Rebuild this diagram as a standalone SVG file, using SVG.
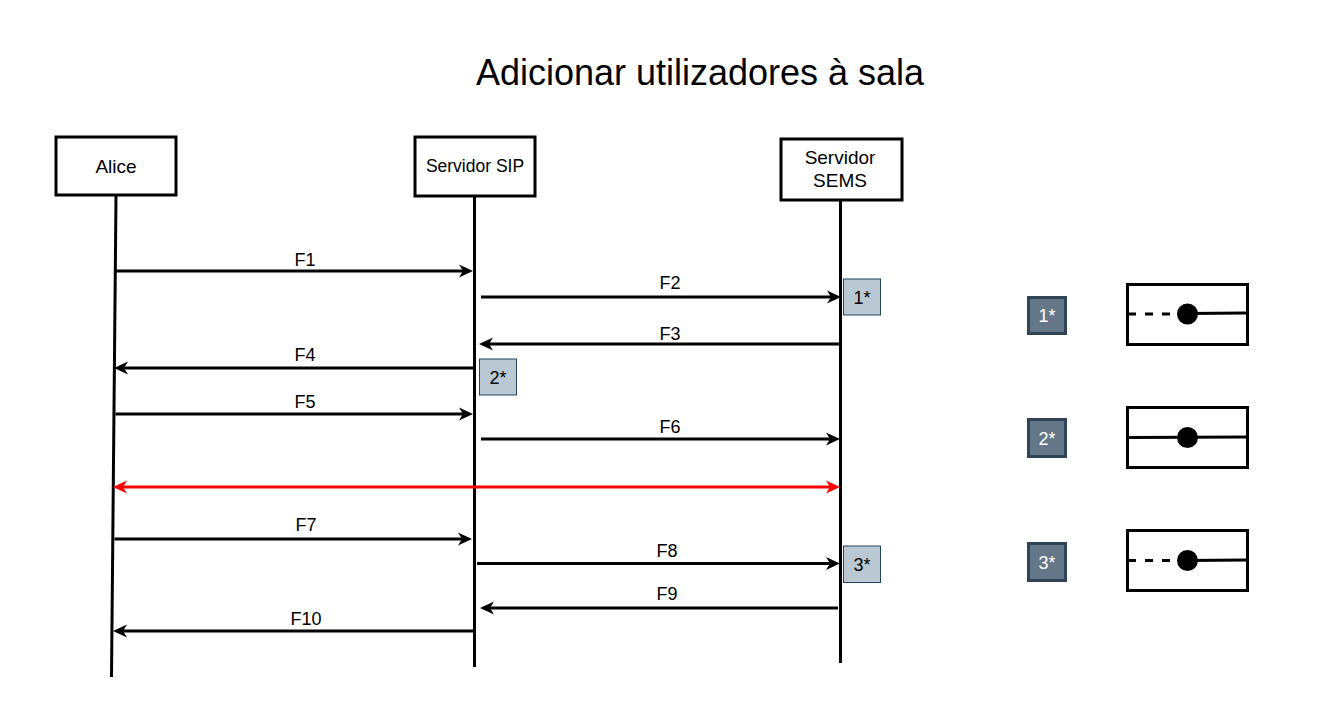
<svg xmlns="http://www.w3.org/2000/svg" width="1317" height="713" viewBox="0 0 1317 713">
<style>
  text { font-family: "Liberation Sans", Arial, sans-serif; fill: #000; }
  .title { font-size: 36px; text-anchor: middle; }
  .actor rect { fill: #fff; stroke: #000; stroke-width: 3; }
  .actor text { text-anchor: middle; }
  .life { stroke: #000; stroke-width: 3; fill: none; }
  .msg { stroke: #000; stroke-width: 3; fill: none; marker-end: url(#arr); }
  .red { stroke: #ff0000; stroke-width: 3; fill: none; marker-start: url(#arrRed); marker-end: url(#arrRed); }
  .lbl { font-size: 18px; text-anchor: middle; }
  .badge rect { fill: #bac8d3; stroke: #23445d; stroke-width: 1; }
  .badge text { font-size: 18px; text-anchor: middle; fill: #000; }
  .lbadge rect { fill: #647687; stroke: #314354; stroke-width: 3; }
  .lbadge text { font-size: 18px; text-anchor: middle; fill: #fff; }
  .lbox rect { fill: #fff; stroke: #000; stroke-width: 3; }
  .lbox line { stroke: #000; stroke-width: 3; }
  .lbox .dash { stroke-dasharray: 8 9; }
  .lbox circle { fill: #000; }
</style>
<defs>
  <marker id="arr" viewBox="0 0 14 14" refX="8" refY="7" markerWidth="14" markerHeight="14" markerUnits="userSpaceOnUse" orient="auto-start-reverse">
    <path d="M0,0.5 L14,7 L0,13.5 L4,7 Z" fill="#000"/>
  </marker>
  <marker id="arrRed" viewBox="0 0 14 14" refX="8" refY="7" markerWidth="14" markerHeight="14" markerUnits="userSpaceOnUse" orient="auto-start-reverse">
    <path d="M0,0.5 L14,7 L0,13.5 L4,7 Z" fill="#ff0000"/>
  </marker>
</defs>
<rect x="0" y="0" width="1317" height="713" fill="#fff"/>

<text class="title" x="700" y="85">Adicionar utilizadores à sala</text>

<g id="lifelines">
  <line class="life" x1="116" y1="196" x2="111.5" y2="677"/>
  <line class="life" x1="474.5" y1="197" x2="474.5" y2="667"/>
  <line class="life" x1="840.5" y1="200" x2="840.5" y2="663"/>
</g>

<g id="alice" class="actor">
  <rect x="56" y="137" width="120" height="58"/>
  <text x="116" y="173" font-size="19">Alice</text>
</g>
<g id="servidor-sip" class="actor">
  <rect x="415" y="137" width="120" height="59"/>
  <text x="475" y="172" font-size="17.5">Servidor SIP</text>
</g>
<g id="servidor-sems" class="actor">
  <rect x="781" y="139" width="121" height="61"/>
  <text x="840" y="164" font-size="19">Servidor</text>
  <text x="840" y="187" font-size="19">SEMS</text>
</g>

<g id="connectors">
  <line class="msg" x1="116" y1="271" x2="467" y2="271"/>
  <line class="msg" x1="481" y1="297" x2="835" y2="297"/>
  <line class="msg" x1="839" y1="344" x2="485" y2="344"/>
  <line class="msg" x1="473" y1="368" x2="120" y2="368"/>
  <line class="msg" x1="115.5" y1="414" x2="467" y2="414"/>
  <line class="msg" x1="481" y1="439" x2="834" y2="439"/>
  <line class="red" x1="119" y1="487" x2="834" y2="487"/>
  <line class="msg" x1="114.5" y1="539" x2="466" y2="539"/>
  <line class="msg" x1="477" y1="563.5" x2="834" y2="563.5"/>
  <line class="msg" x1="838" y1="608" x2="486" y2="608"/>
  <line class="msg" x1="473" y1="631" x2="119" y2="631"/>
</g>

<g id="labels">
  <text class="lbl" x="305" y="266">F1</text>
  <text class="lbl" x="670" y="289">F2</text>
  <text class="lbl" x="670" y="340">F3</text>
  <text class="lbl" x="305" y="361">F4</text>
  <text class="lbl" x="305" y="408">F5</text>
  <text class="lbl" x="670" y="433">F6</text>
  <text class="lbl" x="306" y="531">F7</text>
  <text class="lbl" x="667" y="557">F8</text>
  <text class="lbl" x="667" y="600">F9</text>
  <text class="lbl" x="306" y="625">F10</text>
</g>

<g id="badge-1" class="badge">
  <rect x="843.5" y="279" width="37" height="36"/>
  <text x="862" y="304">1*</text>
</g>
<g id="badge-2" class="badge">
  <rect x="479.5" y="359" width="37" height="36"/>
  <text x="498" y="384">2*</text>
</g>
<g id="badge-3" class="badge">
  <rect x="843.5" y="546" width="37" height="36.5"/>
  <text x="862" y="571">3*</text>
</g>

<g id="legend-badge-1" class="lbadge">
  <rect x="1028.5" y="297.5" width="37" height="36"/>
  <text x="1047" y="322">1*</text>
</g>
<g id="legend-badge-2" class="lbadge">
  <rect x="1028.5" y="419.5" width="37" height="37"/>
  <text x="1047" y="445">2*</text>
</g>
<g id="legend-badge-3" class="lbadge">
  <rect x="1028.5" y="543.5" width="37" height="37"/>
  <text x="1047" y="569">3*</text>
</g>

<g id="legend-box-1" class="lbox">
  <rect x="1127.5" y="284.5" width="120" height="60"/>
  <line class="dash" x1="1128" y1="314" x2="1178" y2="314"/>
  <line x1="1187" y1="313.5" x2="1246" y2="313"/>
  <circle cx="1187.5" cy="314" r="10.5"/>
</g>
<g id="legend-box-2" class="lbox">
  <rect x="1127.5" y="407.5" width="120" height="60"/>
  <line x1="1129" y1="437.5" x2="1246" y2="437"/>
  <circle cx="1187.5" cy="437.5" r="10.5"/>
</g>
<g id="legend-box-3" class="lbox">
  <rect x="1127.5" y="530.5" width="120" height="60"/>
  <line class="dash" x1="1128" y1="560.5" x2="1178" y2="560.5"/>
  <line x1="1187" y1="560.5" x2="1246" y2="560"/>
  <circle cx="1187.5" cy="560.5" r="10.5"/>
</g>
</svg>
